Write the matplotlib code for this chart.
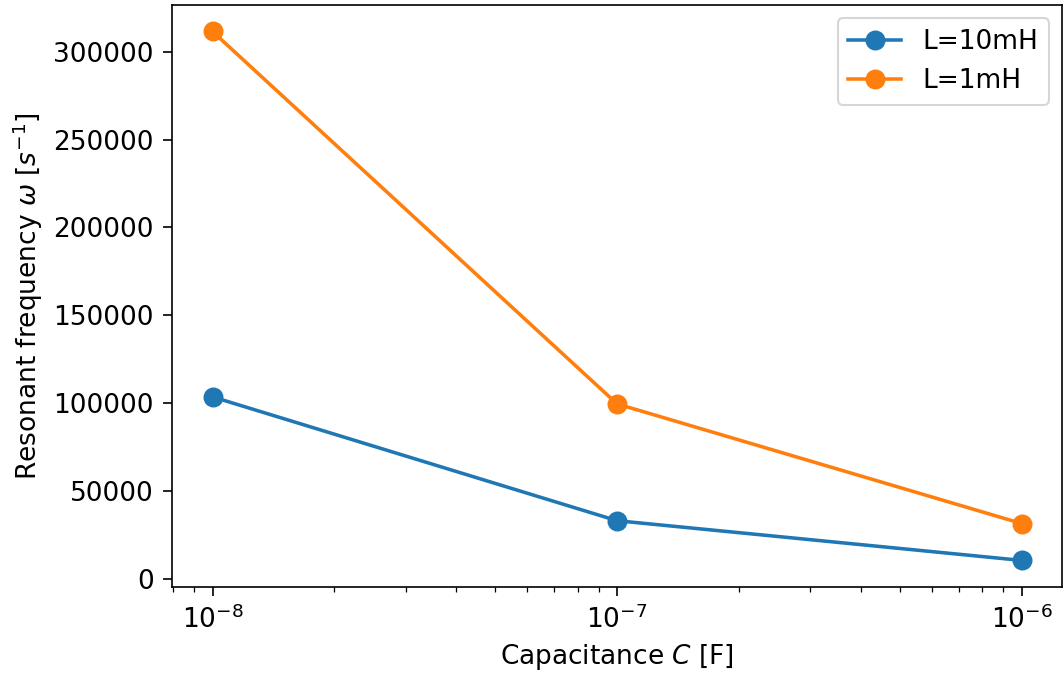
import numpy as np
import matplotlib
matplotlib.use("Agg")
import matplotlib.pyplot as plt

capacitance = [1e-8, 1e-7, 1e-6]
omega_10mH = [103500, 33000, 10400]
omega_1mH = [311500, 99500, 31400]
labels = ["L=10mH", "L=1mH"]

fs = 12.7
plt.rcParams["font.size"] = fs
plt.rcParams["xtick.major.size"] = 4.4
plt.rcParams["ytick.major.size"] = 4.4
plt.rcParams["xtick.minor.size"] = 2.5
plt.rcParams["xtick.major.pad"] = 4.4
plt.rcParams["ytick.major.pad"] = 4.4

fig = plt.figure(figsize=(1064 / 150, 673 / 150), dpi=150)
ax = fig.add_axes([0.1617, 0.128, 0.8365, 0.8645])
ax.plot(capacitance, omega_10mH, "o-", color="#1f77b4", lw=1.7, ms=8.6, label=labels[0])
ax.plot(capacitance, omega_1mH, "o-", color="#ff7f0e", lw=1.7, ms=8.6, label=labels[1])
ax.set_xscale("log")
ax.set_xlabel("Capacitance $C$ [F]", fontsize=fs)
ax.set_ylabel(r"Resonant frequency $\omega$ [$s^{-1}$]", fontsize=fs)
ax.legend(loc="upper right", fontsize=fs)
fig.savefig("out.png", dpi=150)
